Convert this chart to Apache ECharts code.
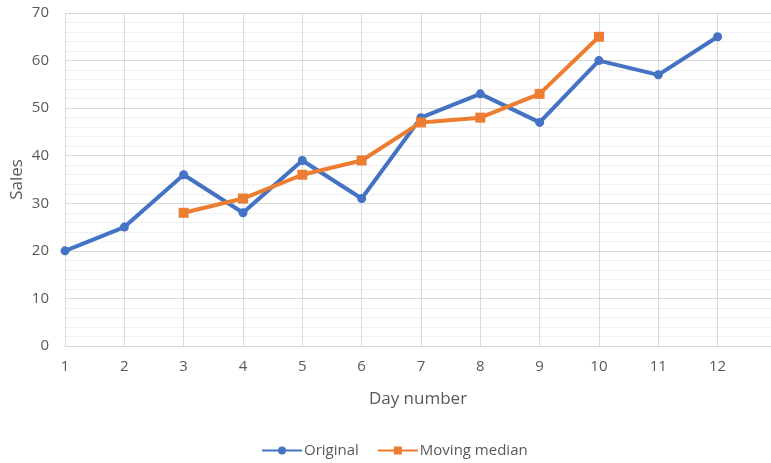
<!DOCTYPE html>
<html>
<head>
<meta charset="utf-8">
<script src="https://cdn.jsdelivr.net/npm/echarts@6/dist/echarts.min.js"></script>
<style>
  html, body { margin: 0; padding: 0; background: #fff; }
  #chart { width: 771px; height: 463px; }
</style>
</head>
<body>
<div id="chart"></div>
<script>
// Day numbers and daily sales
const days = [1, 2, 3, 4, 5, 6, 7, 8, 9, 10, 11, 12];
const original = [20, 25, 36, 28, 39, 31, 48, 53, 47, 60, 57, 65];
// Moving median, available from day 3 to day 10
const medianDays = [3, 4, 5, 6, 7, 8, 9, 10];
const movingMedian = [28, 31, 36, 39, 47, 48, 53, 65];

const font = 'Open Sans, Liberation Sans, sans-serif';
const textColor = '#595959';

const chart = echarts.init(document.getElementById('chart'), null, { renderer: 'canvas' });
chart.setOption({
  animation: false,
  backgroundColor: '#ffffff',
  grid: {
    left: 65, right: 0, top: 13, bottom: 117,
    containLabel: false,
    outerBoundsMode: 'none'
  },
  legend: {
    top: 438,
    left: 256,
    itemWidth: 40,
    itemHeight: 10,
    itemGap: 18,
    textStyle: { color: textColor, fontFamily: font, fontSize: 15, padding: [0, 0, 0, -3] },
    data: ['Original', 'Moving median']
  },
  xAxis: {
    type: 'value',
    min: 1,
    max: 12.9,
    interval: 1,
    name: 'Day number',
    nameLocation: 'middle',
    nameGap: 45,
    nameMoveOverlap: false,
    nameTextStyle: { color: textColor, fontFamily: font, fontSize: 17 },
    axisLine: { show: true, lineStyle: { color: '#d9d9d9', width: 1 } },
    axisTick: { show: false },
    axisLabel: {
      color: textColor, fontFamily: font, fontSize: 15, margin: 13,
      showMaxLabel: false,
      formatter: v => (v <= 12 && Number.isInteger(v) ? String(v) : '')
    },
    splitLine: { show: true, lineStyle: { color: '#d9d9d9', width: 1 } }
  },
  yAxis: {
    type: 'value',
    min: 0,
    max: 70,
    interval: 10,
    name: 'Sales',
    nameLocation: 'middle',
    nameGap: 39,
    nameMoveOverlap: false,
    nameRotate: 90,
    nameTextStyle: { color: textColor, fontFamily: font, fontSize: 17 },
    axisLine: { show: false },
    axisTick: { show: false },
    axisLabel: { color: textColor, fontFamily: font, fontSize: 15, margin: 16 },
    splitLine: { show: true, lineStyle: { color: '#d9d9d9', width: 1 } },
    minorTick: { show: false, splitNumber: 5 },
    minorSplitLine: { show: true, lineStyle: { color: '#f0f0f0', width: 1 } }
  },
  series: [
    {
      name: 'Original',
      type: 'line',
      data: days.map((d, i) => [d, original[i]]),
      symbol: 'circle',
      symbolSize: 9,
      lineStyle: { color: '#4472C4', width: 4 },
      itemStyle: { color: '#4472C4' },
      z: 2
    },
    {
      name: 'Moving median',
      type: 'line',
      data: medianDays.map((d, i) => [d, movingMedian[i]]),
      symbol: 'rect',
      symbolSize: 10,
      lineStyle: { color: '#ED7D31', width: 4 },
      itemStyle: { color: '#ED7D31' },
      z: 3
    }
  ]
});
</script>
</body>
</html>
